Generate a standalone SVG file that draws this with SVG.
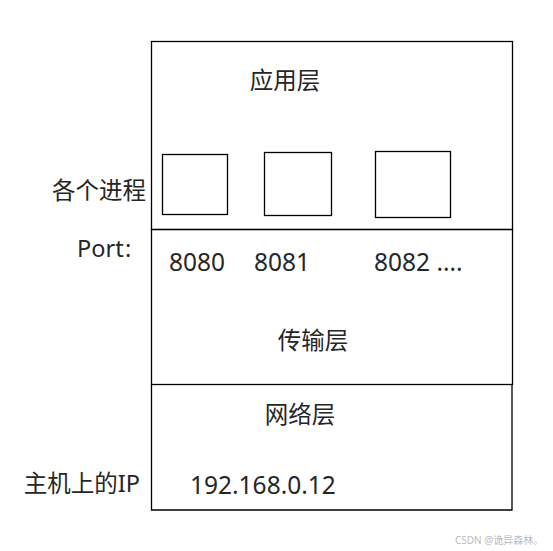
<svg xmlns="http://www.w3.org/2000/svg" width="553" height="551" viewBox="0 0 553 551">
<style>
.b{fill:none;stroke:#000;stroke-width:1.3}
.t{font-family:"Noto Sans","Noto Sans CJK SC",sans-serif;font-size:23.5px;fill:#262626}
.n{font-size:24.5px}
.w{font-family:"Noto Sans","Noto Sans CJK SC",sans-serif;font-size:10px;fill:#bbb}
</style>
<rect width="553" height="551" fill="#fff"/>
<g id="app-layer">
<rect class="b" x="151.5" y="41.5" width="361" height="188"/>
<text class="t" x="285" y="89" text-anchor="middle">应用层</text>
</g>
<g id="proc1"><rect class="b" x="162.5" y="154.5" width="65" height="60"/></g>
<g id="proc2"><rect class="b" x="264.5" y="152.5" width="67" height="63"/></g>
<g id="proc3"><rect class="b" x="375.5" y="151.5" width="75" height="66"/></g>
<g id="transport-layer">
<rect class="b" x="151.5" y="229.5" width="361" height="155"/>
<text class="t n" x="169" y="271">8080</text>
<text class="t n" x="254" y="271">8081</text>
<text class="t n" x="374" y="271">8082 ....</text>
<text class="t" x="313" y="349" text-anchor="middle">传输层</text>
</g>
<g id="network-layer">
<path class="b" d="M151.5 384.5V510H512V384.5" stroke-width="2"/>
<text class="t" x="300" y="423" text-anchor="middle">网络层</text>
<text class="t n" x="190" y="494">192.168.0.12</text>
</g>
<g id="labels">
<text class="t" x="146" y="199" text-anchor="end">各个进程</text>
<text class="t" x="77" y="257">Port<tspan x="125">:</tspan></text>
<text class="t" x="140" y="492" text-anchor="end">主机上的IP</text>
</g>
<g id="connectors"></g>
<text class="w" x="455" y="544">CSDN @诡异森林。</text>
</svg>
